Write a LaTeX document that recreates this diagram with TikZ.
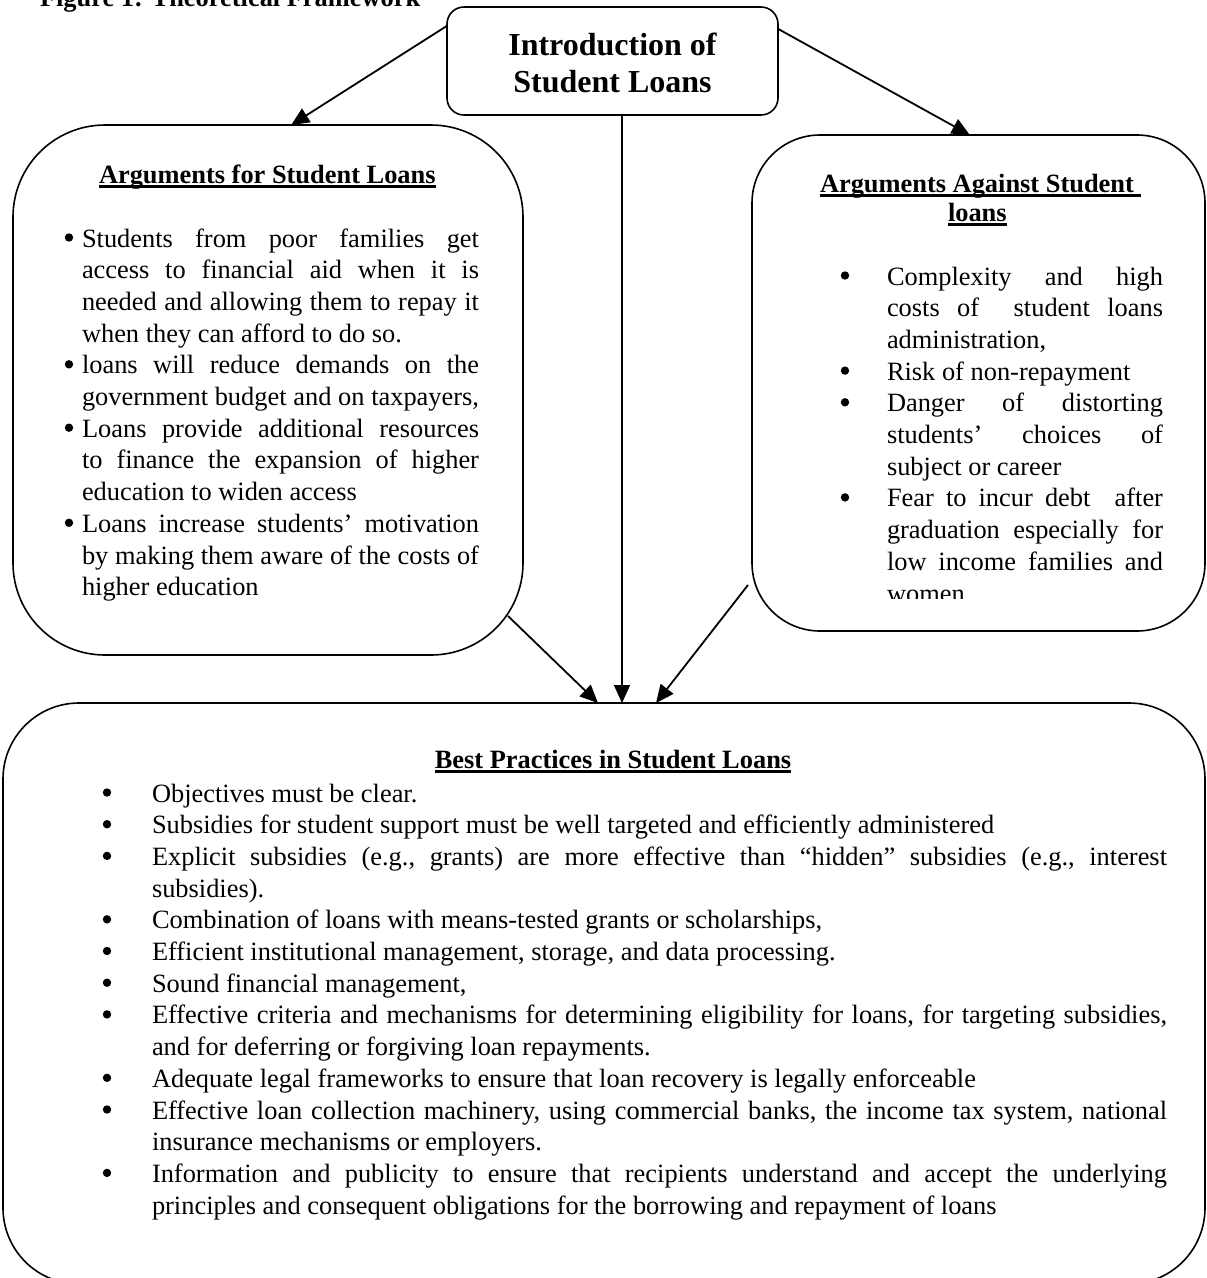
\documentclass[tikz,border=0pt]{standalone}
\usepackage{fontspec}
\setmainfont{Liberation Serif}
\usetikzlibrary{arrows.meta}
\newcommand{\JL}[1]{\makebox[\linewidth][s]{#1}}
\newcommand{\ULn}[1]{\setbox0=\hbox{#1}\rlap{\rule[-4.5pt]{\wd0}{2.2pt}}\box0}
\newcommand{\BodyTxt}{\fontsize{26.4}{31.7}\selectfont\frenchspacing}
\begin{document}
\begin{tikzpicture}[x=1pt,y=-1pt,
  box/.style={draw,line width=1.6pt,inner sep=0pt,outer sep=0pt},
  txt/.style={inner sep=0pt,outer sep=0pt,anchor=base west,font=\BodyTxt},
  head/.style={inner sep=0pt,outer sep=0pt,anchor=base,font=\fontsize{26.4}{31.7}\selectfont\bfseries},
  title/.style={inner sep=0pt,outer sep=0pt,anchor=base,font=\fontsize{32}{37}\selectfont\bfseries},
  bul/.style={fill=black},
  conn/.style={line width=1.8pt,-{Triangle[length=18pt,width=16pt]}}]
\useasboundingbox (0,0) rectangle (1207,1278);
\node[head,anchor=base west] (fig) at (40,6) {Figure 1: Theoretical Framework};

% boxes
\node[box,rounded corners=17pt,minimum width=331pt,minimum height=108pt] (top) at (612.5,61) {};
\node[box,rounded corners=92pt,minimum width=510pt,minimum height=530pt] (left) at (268,390) {};
\node[box,rounded corners=68pt,minimum width=453pt,minimum height=496pt] (right) at (978.5,383) {};
\node[box,rounded corners=76pt,minimum width=1202pt,minimum height=581pt] (bot) at (604,993.5) {};

% top box text
\node[title] (t1) at (612.5,55) {Introduction of};
\node[title] (t2) at (612.5,92) {Student Loans};

% left box
\node[head,anchor=base west] (lh) at (99,183) {\ULn{Arguments for Student Loans}};
\node[txt] (ltxt) at (82,247) {\begin{tabular}[t]{@{}p{397pt}@{}}
\JL{Students from poor families get}\\
\JL{access to financial aid when it is}\\
\JL{needed and allowing them to repay it}\\
when they can afford to do so.\\
\JL{loans will reduce demands on the}\\
\JL{government budget and on taxpayers,}\\
\JL{Loans provide additional resources}\\
\JL{to finance the expansion of higher}\\
education to widen access\\
\JL{Loans increase students’ motivation}\\
\JL{by making them aware of the costs of}\\
higher education
\end{tabular}};
\foreach \k in {0,4,6,9} \fill[bul] (69,{247+31.7*\k-9.5}) circle (4.2pt);

% right box
\node[head,anchor=base west] (rh1) at (820,192) {\ULn{Arguments Against Student\ }};
\node[head,anchor=base west] (rh2) at (948,221) {\ULn{loans}};
\begin{scope}
\clip (752,140) rectangle (1205,598);
\node[txt] (rtxt) at (887,285) {\begin{tabular}[t]{@{}p{276pt}@{}}
\JL{Complexity and high}\\
\JL{costs of\ \ student loans}\\
administration,\\
Risk of non-repayment\\
\JL{Danger of distorting}\\
\JL{students’ choices of}\\
subject or career\\
\JL{Fear to incur debt\ \ after}\\
\JL{graduation especially for}\\
\JL{low income families and}\\
women
\end{tabular}};
\end{scope}
\foreach \k in {0,3,4,7} \fill[bul] (845,{285+31.7*\k-9.5}) circle (4.2pt);

% bottom box
\node[head] (bh) at (613,768) {\ULn{Best Practices in Student Loans}};
\node[txt] (btxt) at (152,802) {\begin{tabular}[t]{@{}p{1015pt}@{}}
Objectives must be clear.\\
Subsidies for student support must be well targeted and efficiently administered\\
\JL{Explicit subsidies (e.g., grants) are more effective than “hidden” subsidies (e.g., interest}\\
subsidies).\\
Combination of loans with means-tested grants or scholarships,\\
Efficient institutional management, storage, and data processing.\\
Sound financial management,\\
\JL{Effective criteria and mechanisms for determining eligibility for loans, for targeting subsidies,}\\
and for deferring or forgiving loan repayments.\\
Adequate legal frameworks to ensure that loan recovery is legally enforceable\\
\JL{Effective loan collection machinery, using commercial banks, the income tax system, national}\\
insurance mechanisms or employers.\\
\JL{Information and publicity to ensure that recipients understand and accept the underlying}\\
principles and consequent obligations for the borrowing and repayment of loans
\end{tabular}};
\foreach \k in {0,1,2,4,5,6,7,9,10,12} \fill[bul] (107,{802+31.7*\k-9.5}) circle (4.2pt);

% connectors
\coordinate (cx) at (622,703);
\coordinate (la) at (508,616);
\coordinate (lb) at (598,703);
\coordinate (ra) at (748,585);
\coordinate (rb) at (656,703);
\draw[conn] (top.168.4) -- (left.85.3);
\draw[conn] (top.11.6) -- (right.92);
\draw[conn] (top.south -| cx) -- (cx);
\draw[conn] (la) -- (lb);
\draw[conn] (ra) -- (rb);
\end{tikzpicture}
\end{document}
